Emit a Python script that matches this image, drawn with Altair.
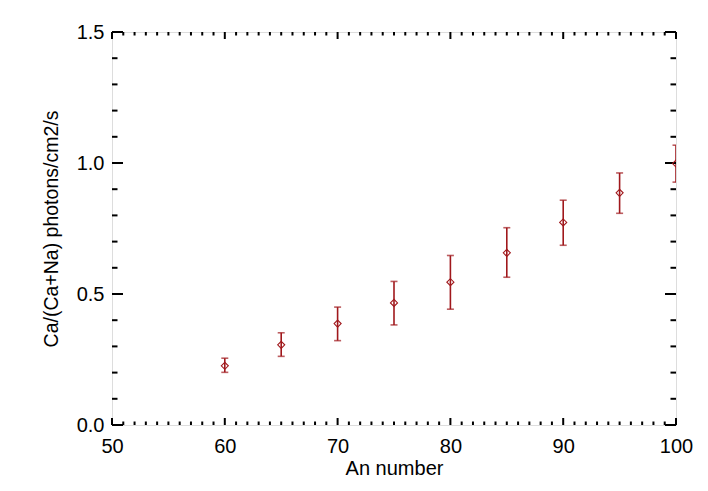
import altair as alt
import pandas as pd

# Data
an_number = [60, 65, 70, 75, 80, 85, 90, 95, 100]
ratio = [0.226, 0.306, 0.387, 0.466, 0.545, 0.657, 0.773, 0.886, 0.998]
err_low = [0.201, 0.262, 0.322, 0.382, 0.442, 0.564, 0.686, 0.808, 0.927]
err_high = [0.255, 0.352, 0.450, 0.548, 0.647, 0.753, 0.858, 0.962, 1.068]

x_major = [50, 60, 70, 80, 90, 100]
x_minor = [v for v in range(51, 100) if v % 10 != 0]
y_major = [0.0, 0.5, 1.0, 1.5]
y_minor = [0.1, 0.2, 0.3, 0.4, 0.6, 0.7, 0.8, 0.9, 1.1, 1.2, 1.3, 1.4]

W, H = 564, 393
RED = "#a0181c"
FONT = "Liberation Sans"

df = pd.DataFrame({"an": an_number, "ratio": ratio, "lo": err_low, "hi": err_high})

xs = alt.Scale(domain=[50, 100], nice=False, zero=False)
ys = alt.Scale(domain=[0, 1.5], nice=False, zero=False)

xaxis = alt.Axis(values=x_major, format="d", tickSize=0, domain=False, grid=False,
                 labelFontSize=20, labelPadding=11, labelFont=FONT, labelColor="black",
                 labelFlush=False, labelOverlap=False,
                 title="An number", titleFont=FONT, titleFontSize=20, titleFontWeight="normal",
                 titleColor="black", titlePadding=2)
yaxis = alt.Axis(values=y_major, format=".1f", tickSize=0, domain=False, grid=False,
                 labelFontSize=20, labelPadding=8, labelFont=FONT, labelColor="black",
                 labelFlush=False, labelOverlap=False,
                 title="Ca/(Ca+Na) photons/cm2/s", titleFont=FONT, titleFontSize=19.5,
                 titleFontWeight="normal", titleColor="black", titlePadding=15)


def X(field):
    return alt.X(field, scale=xs, axis=xaxis, title="An number")


def Y(field):
    return alt.Y(field, scale=ys, axis=yaxis, title="Ca/(Ca+Na) photons/cm2/s")


bars = alt.Chart(df).mark_rule(color=RED, strokeWidth=1.6, clip=True).encode(
    x=X("an:Q"), y=Y("lo:Q"), y2="hi:Q")
cap_lo = alt.Chart(df).mark_tick(color=RED, orient="horizontal", size=7, thickness=1.6, clip=True).encode(
    x=X("an:Q"), y=Y("lo:Q"))
cap_hi = alt.Chart(df).mark_tick(color=RED, orient="horizontal", size=7, thickness=1.6, clip=True).encode(
    x=X("an:Q"), y=Y("hi:Q"))
pts = alt.Chart(df).mark_point(shape="diamond", filled=False, color=RED, size=50,
                               strokeWidth=1.1, opacity=1, clip=True).encode(
    x=X("an:Q"), y=Y("ratio:Q"))


def xticks(vals, length):
    d = pd.DataFrame({"v": vals})
    bottom = alt.Chart(d).mark_rule(color="black", strokeWidth=2).encode(
        x=X("v:Q"), y=alt.value(H), y2=alt.value(H - length))
    top = alt.Chart(d).mark_rule(color="black", strokeWidth=2).encode(
        x=X("v:Q"), y=alt.value(0), y2=alt.value(length))
    return [bottom, top]


def yticks(vals, length):
    d = pd.DataFrame({"v": vals})
    left = alt.Chart(d).mark_rule(color="black", strokeWidth=2).encode(
        y=Y("v:Q"), x=alt.value(0), x2=alt.value(length))
    right = alt.Chart(d).mark_rule(color="black", strokeWidth=2).encode(
        y=Y("v:Q"), x=alt.value(W), x2=alt.value(W - length))
    return [left, right]


layers = [bars] + xticks(x_major, 7) + xticks(x_minor, 3.5) + yticks(y_major, 11) + yticks(y_minor, 5.5) \
    + [cap_lo, cap_hi, pts]

chart = alt.layer(*layers).properties(
    width=W, height=H,
    autosize=alt.AutoSizeParams(type="none"),
    padding={"left": 104, "top": 24, "right": 24, "bottom": 60},
).configure_view(stroke="black", strokeWidth=2).configure(background="white")

chart.save("out.html", embed_options={"renderer": "svg", "actions": False})
